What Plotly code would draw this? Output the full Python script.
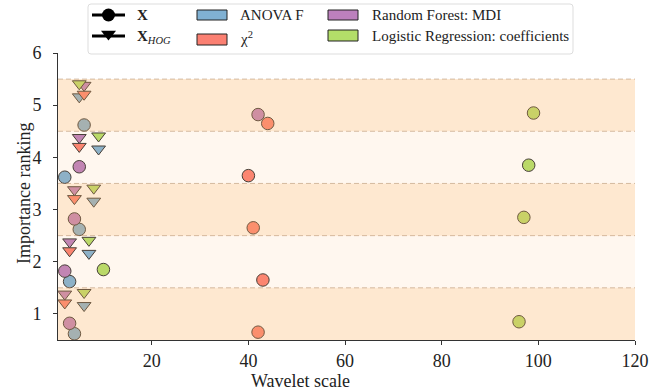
import plotly.graph_objects as go

# ---------------- data ----------------
ranks = [1, 2, 3, 4, 5]
methods = ["ANOVA F", "χ²", "Random Forest: MDI", "Logistic Regression: coefficients"]

# wavelet scale chosen at each importance rank, raw features X
x_anova = [4, 3, 5, 2, 6]
x_chi2 = [42, 43, 41, 40, 44]
x_rf = [3, 2, 4, 5, 42]
x_lr = [96, 10, 97, 98, 99]

# wavelet scale chosen at each importance rank, HOG features
hog_anova = [6, 7, 8, 9, 5]
hog_chi2 = [2, 3, 4, 5, 6]
hog_rf = [2, 3, 4, 5, 6]
hog_lr = [6, 7, 8, 9, 5]

x_ticks = [20, 40, 60, 80, 100, 120]
y_ticks = [1, 2, 3, 4, 5, 6]

# ---------------- style ----------------
W, H = 667, 391
L, R, T, B = 58, 635, 53, 340
FONT = "Liberation Serif, Times New Roman, Times, serif"
TXT = "#222222"
colors = ["#80b1d3", "#fb8072", "#bc80bd", "#b3de69"]
off_x = [-0.38, -0.35, -0.18, -0.15]
off_hog = [0.16, 0.21, 0.38, 0.41]

fig = go.Figure()

x_sets = [x_anova, x_chi2, x_rf, x_lr]
hog_sets = [hog_anova, hog_chi2, hog_rf, hog_lr]

for i, xs in enumerate(x_sets):
    fig.add_trace(go.Scatter(
        x=xs, y=[r + off_x[i] for r in ranks], mode="markers",
        marker=dict(symbol="circle", size=12.5, color=colors[i],
                    line=dict(color="#333333", width=1)),
        showlegend=False, hoverinfo="skip", xaxis="x", yaxis="y"))
for i, xs in enumerate(hog_sets):
    fig.add_trace(go.Scatter(
        x=xs, y=[r + off_hog[i] for r in ranks], mode="markers",
        marker=dict(symbol="triangle-down", size=12, color=colors[i],
                    line=dict(color="#333333", width=1)),
        showlegend=False, hoverinfo="skip", xaxis="x", yaxis="y"))

shapes = []
# alternating bands drawn above the markers (tinting them)
for r in ranks:
    alpha = 0.3 if r % 2 == 1 else 0.1
    shapes.append(dict(type="rect", xref="x domain", yref="y", x0=0, x1=1,
                       y0=r - 0.5, y1=r + 0.5, layer="above",
                       fillcolor=f"rgba(253,180,98,{alpha})", line=dict(width=0)))
for r in ranks:
    yv = r + 0.5
    shapes.append(dict(type="line", xref="x domain", yref="y", x0=0, x1=1,
                       y0=yv, y1=yv, layer="above",
                       line=dict(color="rgba(185,150,115,0.6)", width=1, dash="5px,3px")))

# ---------------- legend (pixel overlay axes) ----------------
shapes.append(dict(type="path", xref="x2", yref="y2", layer="below",
                   path="M 91,4 L 570,4 Q 573,4 573,7 L 573,51 Q 573,54 570,54 "
                        "L 91,54 Q 88,54 88,51 L 88,7 Q 88,4 91,4 Z",
                   fillcolor="rgba(255,255,255,0.85)", line=dict(color="#dddddd", width=1)))

leg_rows = [15, 36]
for yy, sym in zip(leg_rows, ["circle", "triangle-down"]):
    shapes.append(dict(type="line", xref="x2", yref="y2", x0=92, x1=125, y0=yy, y1=yy,
                       line=dict(color="black", width=3)))
    fig.add_trace(go.Scatter(x=[108.5], y=[yy - (2 if sym == "triangle-down" else 0)],
                             mode="markers", xaxis="x2", yaxis="y2",
                             marker=dict(symbol=sym, size=13, color="black"),
                             showlegend=False, hoverinfo="skip"))

patches = [(197, 10, 20), (197, 34, 45), (328, 10, 20), (328, 30, 41)]
for (px, y0, y1), c in zip(patches, colors):
    shapes.append(dict(type="rect", xref="x2", yref="y2", x0=px, x1=px + 30, y0=y0, y1=y1,
                       fillcolor=c, line=dict(color="#222222", width=1)))

annotations = []
leg_texts = [
    ("<b>X</b>", 135, 15),
    ("<b>X</b><sub><i>HOG</i></sub>", 135, 37),
    (methods[0], 238, 15),
    ("χ<sup>2</sup>", 238, 38),
    (methods[2], 370, 15),
    (methods[3], 370, 35.5),
]
for t, px, py in leg_texts:
    annotations.append(dict(text=t, x=px, y=py, xref="x2", yref="y2", xanchor="left",
                            yanchor="middle", showarrow=False,
                            font=dict(family=FONT, size=15, color=TXT)))

axis_font = dict(family=FONT, size=18, color=TXT)
# axis titles placed as in the reference
annotations.append(dict(text="Wavelet scale", x=300, y=381, xref="x2", yref="y2",
                        xanchor="center", yanchor="middle", showarrow=False, font=axis_font))
annotations.append(dict(text="Importance ranking", x=24, y=194, xref="x2", yref="y2",
                        xanchor="center", yanchor="middle", textangle=-90,
                        showarrow=False, font=axis_font))

fig.update_layout(
    width=W, height=H,
    margin=dict(l=0, r=0, t=0, b=0, pad=0, autoexpand=False),
    paper_bgcolor="white", plot_bgcolor="rgba(0,0,0,0)",
    font=dict(family=FONT, color=TXT),
    shapes=shapes, annotations=annotations,
    xaxis=dict(domain=[L / W, R / W], range=[0.6, 120], tickvals=x_ticks,
               showline=True, linecolor="#333333", linewidth=1, mirror=False,
               ticks="outside", ticklen=4, tickcolor="#333333",
               showgrid=False, zeroline=False, tickfont=axis_font, automargin=False,
               anchor="y"),
    yaxis=dict(domain=[(H - B) / H, (H - T) / H], range=[0.5, 6], tickvals=y_ticks,
               showline=True, linecolor="#333333", linewidth=1,
               ticks="outside", ticklen=4, tickcolor="#333333",
               showgrid=False, zeroline=False, tickfont=axis_font, automargin=False,
               ticklabelstandoff=8,
               anchor="x"),
    xaxis2=dict(domain=[0, 1], range=[0, W], visible=False, anchor="y2",
                fixedrange=True, automargin=False),
    yaxis2=dict(domain=[0, 1], range=[H, 0], visible=False, anchor="x2",
                fixedrange=True, automargin=False),
)

fig.write_html("out.html")
